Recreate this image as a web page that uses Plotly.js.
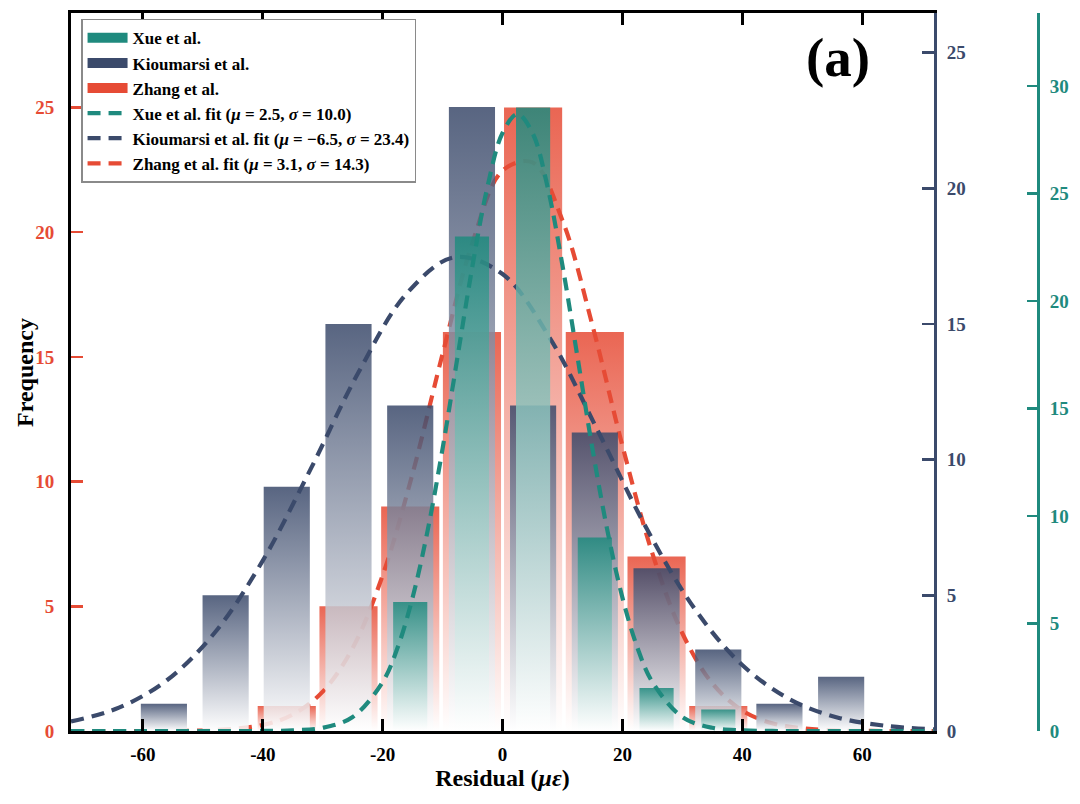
<!DOCTYPE html>
<html>
<head>
<meta charset="utf-8">
<script src="https://cdn.plot.ly/plotly-3.0.1.min.js"></script>
<style>
  body { margin: 0; background: #fff; }
  #chart { width: 1080px; height: 804px; }
</style>
</head>
<body>
<div id="chart"></div>
<script>
// histogram bins (bin centre, microstrain) and counts per study
var binCenters = [-56.5, -46.2, -36.0, -25.7, -15.4, -5.1, 5.1, 15.4, 25.7, 36.0, 46.2, 56.5];
var xueCounts = [0, 0, 0, 0, 6, 23, 29, 9, 2, 1, 0, 0];
var kioumarsiCounts = [1, 5, 9, 15, 12, 23, 12, 11, 6, 3, 1, 2];
var zhangCounts = [0, 0, 1, 5, 9, 16, 25, 16, 7, 1, 0, 0];

// fitted normal curves
var xueFitX = [-72, -60, -50, -45, -40, -35, -30, -25, -20, -17.5, -15, -12.5, -10, -7.5, -5, -2.5, 0, 2.5,
               5, 7.5, 10, 12.5, 15, 17.5, 20, 22.5, 25, 30, 35, 40, 45, 50, 60, 72];
var xueFitY = [0, 0, 0, 0, 0.003, 0.03, 0.15, 0.65, 2.28, 3.88, 6.21, 9.32, 13.14, 17.41, 21.66, 25.33, 27.82, 28.7,
               27.82, 25.33, 21.66, 17.41, 13.14, 9.32, 6.21, 3.88, 2.28, 0.65, 0.15, 0.03, 0.003, 0, 0, 0];
var kioFitX = [-72, -64, -56, -48, -40, -32, -24, -16, -8, 0, 8, 16, 24, 32, 40, 48, 56, 64, 72];
var kioFitY = [0.35, 0.86, 1.87, 3.63, 6.28, 9.66, 13.23, 16.12, 17.46, 16.84, 14.44, 11.02, 7.48, 4.52, 2.43, 1.16, 0.49, 0.19, 0.06];
var zhangFitX = [-72, -64, -56, -48, -40, -35, -30, -25, -20, -15, -10, -5, 0, 5, 10, 15, 20, 25, 30, 35, 40, 45, 50, 56, 64, 72];
var zhangFitY = [0, 0, 0, 0.04, 0.24, 0.66, 1.58, 3.33, 6.24, 10.33, 15.12, 19.59, 22.47, 22.80, 20.47, 16.27, 11.44,
                 7.12, 3.92, 1.91, 0.82, 0.31, 0.11, 0.02, 0, 0];

var xTickVals = [-60, -40, -20, 0, 20, 40, 60];
var xTickText = ['-60', '-40', '-20', '0', '20', '40', '60'];
var yTickVals = [0, 5, 10, 15, 20, 25];
var y3TickVals = [0, 5, 10, 15, 20, 25, 30];

var xueColor = [31, 138, 126];
var kioColor = [59, 74, 107];
var zhangColor = [230, 75, 53];

function rgba(c, a) {
  return 'rgba(' + c[0] + ',' + c[1] + ',' + c[2] + ',' + a + ')';
}

var serif = 'Liberation Serif, Times New Roman, serif';

// one filled polygon per bar so each bar fades from its colour (top) to white (bottom)
function barTraces(counts, width, color, yaxis) {
  var out = [];
  for (var i = 0; i < binCenters.length; i++) {
    if (!counts[i]) continue;
    var x0 = binCenters[i] - width / 2;
    var x1 = binCenters[i] + width / 2;
    out.push({
      x: [x0, x0, x1, x1, x0],
      y: [0, counts[i], counts[i], 0, 0],
      type: 'scatter',
      mode: 'none',
      fill: 'toself',
      fillgradient: {
        type: 'vertical',
        colorscale: [[0, 'rgba(255,255,255,0.85)'], [1, rgba(color, 0.85)]]
      },
      yaxis: yaxis,
      showlegend: false,
      hoverinfo: 'skip'
    });
  }
  return out;
}

function fitTrace(x, y, color, yaxis, name, rank) {
  return {
    x: x, y: y,
    type: 'scatter', mode: 'lines',
    line: { color: rgba(color, 1), width: 4.2, dash: '13px,8px', shape: 'spline' },
    yaxis: yaxis, name: name, legendrank: rank, hoverinfo: 'skip'
  };
}

// legend swatches for the histograms
function swatch(color, name, rank) {
  return {
    x: [null], y: [null], type: 'scatter', mode: 'lines',
    line: { color: rgba(color, 1), width: 12 },
    name: name, legendrank: rank, hoverinfo: 'skip'
  };
}

var data = []
  .concat(barTraces(zhangCounts, 9.7, zhangColor, 'y'))
  .concat([fitTrace(zhangFitX, zhangFitY, zhangColor, 'y', 'Zhang et al. fit (<i>μ</i> = 3.1, <i>σ</i> = 14.3)', 6)])
  .concat(barTraces(kioumarsiCounts, 7.7, kioColor, 'y2'))
  .concat([fitTrace(kioFitX, kioFitY, kioColor, 'y2', 'Kioumarsi et al. fit (<i>μ</i> = −6.5, <i>σ</i> = 23.4)', 5)])
  .concat(barTraces(xueCounts, 5.7, xueColor, 'y3'))
  .concat([fitTrace(xueFitX, xueFitY, xueColor, 'y3', 'Xue et al. fit (<i>μ</i> = 2.5, <i>σ</i> = 10.0)', 4)])
  .concat([
    swatch(xueColor, 'Xue et al.', 1),
    swatch(kioColor, 'Kioumarsi et al.', 2),
    swatch(zhangColor, 'Zhang et al.', 3)
  ]);

var layout = {
  width: 1080,
  height: 804,
  margin: { l: 71, r: 42, t: 13, b: 73 },
  paper_bgcolor: '#ffffff',
  plot_bgcolor: 'rgba(0,0,0,0)',
  font: { family: serif, weight: 'bold', color: '#000' },
  showlegend: true,
  legend: {
    x: 0.0104, y: 0.992, xanchor: 'left', yanchor: 'top',
    bgcolor: '#ffffff', bordercolor: '#8a8a8a', borderwidth: 1.5,
    font: { family: serif, size: 17, weight: 'bold', color: '#000' },
    itemwidth: 40
  },
  xaxis: {
    domain: [0, 0.8925],
    range: [-72, 72],
    tickvals: xTickVals, ticktext: xTickText,
    ticks: 'inside', ticklen: 12, tickwidth: 3, tickcolor: '#000',
    showline: true, linecolor: '#000', linewidth: 3, mirror: 'ticks',
    showgrid: false, zeroline: false,
    tickfont: { family: serif, size: 19, weight: 'bold', color: '#000' },
    ticklabelstandoff: 4,
    title: { text: 'Residual (<i>με</i>)', font: { family: serif, size: 24, weight: 'bold', color: '#000' }, standoff: 3 }
  },
  yaxis: {
    range: [0, 28.79],
    tickvals: yTickVals,
    ticks: 'inside', ticklen: 12, tickwidth: 2.5, tickcolor: rgba(zhangColor, 1),
    showline: true, linecolor: '#000', linewidth: 3,
    showgrid: false, zeroline: false,
    tickfont: { family: serif, size: 19, weight: 'bold', color: rgba(zhangColor, 1) },
    ticklabelstandoff: 10
  },
  yaxis2: {
    overlaying: 'y', side: 'right', anchor: 'x',
    range: [0, 26.46],
    tickvals: yTickVals,
    ticks: 'inside', ticklen: 12, tickwidth: 2.5, tickcolor: rgba(kioColor, 1),
    showline: true, linecolor: rgba(kioColor, 1), linewidth: 3,
    showgrid: false, zeroline: false,
    tickfont: { family: serif, size: 19, weight: 'bold', color: rgba(kioColor, 1) },
    ticklabelstandoff: 6
  },
  yaxis3: {
    overlaying: 'y', side: 'right', anchor: 'free', position: 1,
    range: [0, 33.4],
    tickvals: y3TickVals,
    ticks: 'inside', ticklen: 10, tickwidth: 2.5, tickcolor: rgba(xueColor, 1),
    showline: true, linecolor: rgba(xueColor, 1), linewidth: 3,
    showgrid: false, zeroline: false,
    tickfont: { family: serif, size: 19, weight: 'bold', color: rgba(xueColor, 1) },
    ticklabelstandoff: 6
  },
  annotations: [
    {
      text: '(a)', xref: 'paper', yref: 'paper', x: 0.793, y: 0.9387,
      xanchor: 'center', yanchor: 'middle', showarrow: false,
      font: { family: serif, size: 55, weight: 'bold', color: '#000' }
    },
    {
      // left axis title
      text: 'Frequency', xref: 'paper', yref: 'paper', x: -0.0476, y: 0.5,
      xanchor: 'center', yanchor: 'middle', textangle: -90, showarrow: false,
      font: { family: serif, size: 24, weight: 'bold', color: '#000' }
    }
  ]
};

Plotly.newPlot('chart', data, layout, { staticPlot: true });
</script>
</body>
</html>
